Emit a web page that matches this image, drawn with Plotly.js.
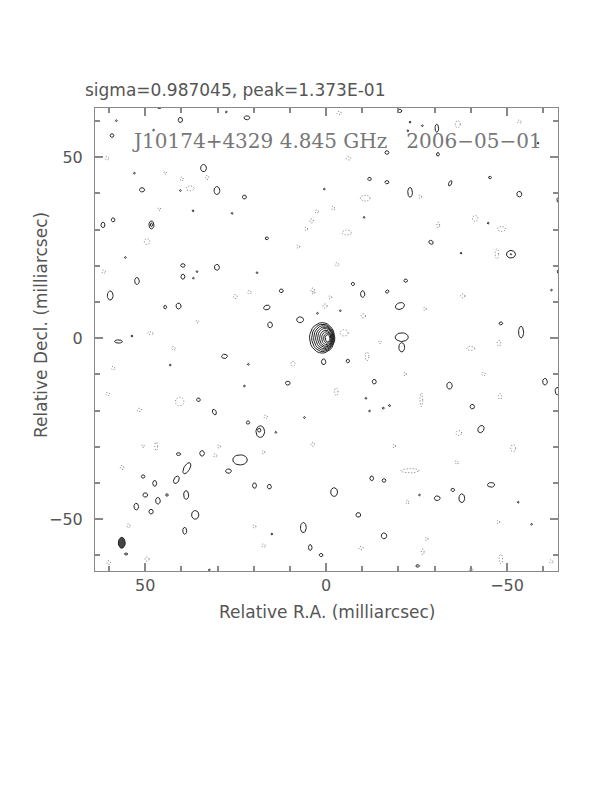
<!DOCTYPE html>
<html><head><meta charset="utf-8">
<script src="https://cdn.plot.ly/plotly-3.0.1.min.js"></script>
<style>html,body{margin:0;padding:0;background:#fff}</style>
</head><body><div id="plot" style="width:612px;height:792px"></div>
<script>
// ---- Data (milliarcsec), read from the map ----
// positive contour islands: centre x, centre y, half-width, half-height, tilt (deg)
const posX = [58.0,40.3,21.9,27.6,59.2,46.1,47.7,33.9,53.0,50.9,40.3,30.2,22.6,36.8,26.0,0.5,61.7,58.9,48.3,48.3,16.4,55.5,39.6,39.6,35.7,36.7,30.2,19.1,52.3,59.7,12.4,44.5,40.8,16.4,7.2,15.5,53.7,57.4,
 -20.4,-23.2,-26.6,-30.6,-22.6,-16.8,-30.9,-58.6,-12.0,-16.8,-45.3,-34.3,-23.2,-53.4,-10.5,-44.8,-29.0,-37.3,-51.1,-51.1,-62.3,-64.4,-64.4,-22.0,-7.4,-10.1,-16.9,-20.4,-48.3,-53.9,-20.9,-20.9,
 28.1,43.1,21.5,0.7,10.6,22.6,35.3,30.9,21.6,18.2,18.5,6.0,13.9,40.8,34.3,23.8,38.5,27.0,50.6,41.4,47.4,19.8,15.7,50.0,44.0,38.7,46.5,52.5,48.4,36.2,6.3,39.1,15.0,55.3,4.4,1.4,32.3,
 -6.0,-13.3,-34.1,-60.5,-63.9,-11.0,-15.8,-17.5,-12.0,-40.4,-42.8,-12.6,-16.0,-45.6,-2.2,-25.8,-35.0,-30.7,-37.5,-53.1,-8.9,-56.8,-16.0,-25.3,2.4,-3.9];
const posY = [60.1,60.3,60.9,62.5,56.0,63.8,57.5,47.0,45.6,41.0,40.8,40.8,39.0,35.2,34.5,41.2,31.3,32.7,31.3,31.3,27.6,22.3,20.1,17.0,18.4,16.6,19.6,18.1,15.8,11.8,13.1,8.6,8.9,8.5,5.1,3.7,0.6,-0.9,
 62.8,59.7,58.7,58.0,57.3,51.3,50.8,53.9,44.0,43.1,44.4,42.8,40.3,39.8,33.4,31.8,26.5,23.5,23.2,23.2,13.3,38.2,18.4,15.9,15.0,12.2,12.9,8.9,4.1,1.7,0.3,-2.5,
 -5.0,-7.4,-7.2,-6.5,-12.4,-13.2,-17.0,-20.4,-23.3,-25.8,-25.4,-21.9,-26.0,-32.0,-31.8,-33.6,-35.9,-36.7,-38.2,-39.1,-40.1,-40.7,-41.0,-43.3,-43.3,-43.3,-44.9,-46.5,-47.9,-48.8,-52.3,-53.2,-54.1,-59.6,-57.8,-59.9,-64.0,
 -6.3,-12.0,-13.1,-12.0,-14.6,-16.6,-19.3,-18.6,-20.1,-18.9,-25.1,-38.7,-39.3,-40.5,-42.5,-43.3,-41.9,-44.2,-44.2,-45.3,-48.8,-51.4,-54.6,-62.9,6.9,7.6];
const posA = [0.25,0.6,0.8,0.25,0.5,0.6,0.25,0.8,0.25,0.7,0.25,0.8,0.55,0.25,0.25,0.25,0.55,0.5,0.7,0.3,0.45,0.25,0.6,0.55,0.25,0.25,0.7,0.25,0.65,0.8,0.55,0.4,0.7,0.9,0.95,0.65,0.25,1.1,
 0.5,0.25,0.25,0.5,0.25,0.55,0.4,0.25,0.5,0.55,0.4,0.4,0.65,0.7,0.25,0.25,0.65,0.25,1.25,0.2,0.25,0.6,0.5,0.5,0.45,0.6,0.5,1.3,0.5,0.7,1.8,0.8,
 0.8,0.25,0.25,0.6,0.65,0.25,0.5,0.5,0.45,1.2,0.45,0.25,0.25,0.6,0.65,2.0,0.8,0.8,0.5,0.7,0.55,0.55,0.55,0.65,0.35,0.7,0.65,0.65,0.6,1.0,0.8,0.55,0.25,0.45,0.5,0.5,0.25,
 0.45,0.55,0.75,0.65,0.6,0.25,0.3,0.3,0.25,0.6,0.8,0.5,0.5,1.0,0.95,0.25,0.5,0.8,0.8,0.25,0.65,0.25,0.75,0.5,0.25,0.25];
const posB = [0.25,0.7,0.55,0.25,0.5,0.35,0.25,1.0,0.25,0.6,0.25,1.1,0.55,0.25,0.25,0.25,0.75,0.55,1.1,0.5,0.4,0.25,0.5,0.7,0.25,0.25,0.8,0.25,0.95,1.25,0.5,0.5,0.8,0.65,0.8,0.8,0.25,0.45,
 0.45,0.25,0.25,1.1,0.25,0.5,0.5,0.25,0.45,0.45,0.35,0.8,1.35,0.75,0.25,0.25,0.5,0.25,1.05,0.2,0.25,0.8,0.6,0.45,0.45,0.9,0.4,0.9,0.4,1.6,1.2,1.3,
 0.6,0.25,0.25,0.8,0.55,0.25,0.5,0.8,0.45,1.6,0.55,0.25,0.25,0.4,0.75,1.4,1.7,0.6,0.45,1.1,0.8,0.75,0.65,0.6,0.35,1.2,0.9,0.9,0.65,1.2,1.4,0.95,0.25,0.3,0.8,0.45,0.25,
 0.5,0.65,0.95,0.9,1.0,0.25,0.25,0.25,0.25,0.65,1.05,0.65,0.5,0.65,1.2,0.25,0.45,0.65,1.2,0.25,0.65,0.25,0.8,0.35,0.25,0.25];
const posT = {33:15, 49:-25, 54:-30, 64:30, 65:20, 77:25, 86:-30, 89:-30, 117:-30};

// negative (dotted) contour islands
const negX = [60.6,32.9,44.5,39.9,37.6,2.6,4.0,5.5,46.1,49.5,7.7,61.5,25.1,21.2,3.7,35.6,48.6,0.3,-3.6,-36.4,-53.4,-6.2,-26.0,-10.8,-2.0,-41.2,-48.5,-31.0,-5.7,-47.2,-3.0,-37.8,-27.3,-10.3,-5.0,-1.1,3.5,
 -11.3,42.2,58.9,9.2,60.4,40.5,51.6,16.7,50.6,47.0,3.7,30.7,29.6,17.3,56.4,54.6,19.8,17.3,60.1,49.5,-40.0,-47.8,-14.9,-21.8,-43.5,-2.8,-26.3,-48.1,-36.7,-18.8,-51.7,-36.1,-23.2,-22.5,-47.6,-27.8,-9.7,-26.7,-48.3,-62.2,-40.0];
const negY = [49.7,44.4,45.7,44.0,41.4,35.0,32.4,30.2,35.7,26.7,25.3,18.4,11.5,12.7,13.3,4.6,1.4,8.9,62.2,59.1,59.8,49.7,39.1,38.7,35.9,33.1,30.2,31.3,29.2,23.3,20.4,11.7,8.1,6.2,1.5,11.3,12.6,
 -5.0,-2.8,-8.3,-7.0,-15.4,-17.5,-19.8,-21.7,-29.8,-29.9,-29.3,-32.4,-29.9,-31.5,-35.7,-51.8,-52.0,-57.3,-62.0,-61.0,-2.8,-1.4,-1.1,-9.9,-9.9,-14.8,-17.0,-16.1,-26.2,-29.8,-30.4,-34.3,-36.6,-45.3,-50.8,-55.4,-58.0,-59.0,-61.0,-61.7,-63.9];
const negA = [0.5,0.5,0.4,0.4,1.1,0.5,0.5,0.4,0.4,0.8,0.4,0.5,0.5,0.5,0.5,0.4,0.8,0.6,0.6,0.7,0.5,0.6,0.4,1.4,0.4,0.8,1.1,0.4,1.3,0.5,0.5,0.6,0.4,0.6,1.1,0.4,0.4,
 0.5,0.5,0.5,0.6,0.5,1.2,0.6,0.5,0.4,0.4,0.5,0.5,0.4,0.4,0.5,0.4,0.4,0.5,0.5,0.6,1.1,0.5,0.4,0.4,0.5,0.5,0.4,0.5,0.8,0.4,0.7,0.4,2.5,0.4,0.4,0.4,0.6,0.4,0.5,0.5,0.6];
const negB = [0.5,0.6,0.4,0.6,0.7,0.5,0.6,0.5,0.4,0.8,0.5,0.5,0.6,0.5,0.6,0.4,0.4,0.6,0.5,1.0,0.5,0.5,0.5,0.8,0.6,0.8,0.7,0.8,0.7,1.4,0.5,0.6,0.5,0.6,0.9,0.5,0.5,
 1.2,0.5,0.5,0.7,0.5,1.2,0.5,0.5,0.4,1.2,0.6,0.5,0.5,0.5,0.6,0.6,0.5,0.5,0.6,0.6,0.6,0.8,0.4,0.5,0.5,1.1,1.9,0.8,0.7,0.5,1.0,0.6,0.6,0.6,0.5,0.5,0.5,0.8,1.3,0.5,0.4];
const negT = {68:20};

// central component: nested contour levels (outer -> inner)
const coreX = [1.1,0.9,0.7,0.5,0.3,0.1,-0.1,-0.3,-0.4];
const coreY = [0.1,0.1,0.1,0.1,0.1,0.0,0.0,0.0,0.0];
const coreA = [3.5,3.1,2.75,2.4,2.05,1.7,1.35,1.0,0.65];
const coreB = [4.2,3.8,3.4,3.0,2.6,2.2,1.8,1.4,1.0];

// restoring beam
const beamX = [56.5], beamY = [-56.5], beamA = [0.95], beamB = [1.5];

const xTicks = [50, 0, -50];
const yTicks = [50, 0, -50];
const tickText = ['50', '0', '\u221250'];
const xRange = [63.9, -64.1];
const yRange = [-64.3, 63.6];

// ---- build ellipse outlines ----
function outlines(cx, cy, a, b, tilt) {
  const X = [], Y = [], N = 28;
  for (let i = 0; i < cx.length; i++) {
    const th = ((tilt && tilt[i]) || 0) * Math.PI / 180;
    for (let k = 0; k <= N; k++) {
      const t = 2 * Math.PI * k / N;
      const vx = a[i] * Math.cos(t) * Math.cos(th) - b[i] * Math.sin(t) * Math.sin(th);
      const vy = a[i] * Math.cos(t) * Math.sin(th) + b[i] * Math.sin(t) * Math.cos(th);
      X.push(cx[i] - vx); Y.push(cy[i] + vy);
    }
    X.push(null); Y.push(null);
  }
  return {X, Y};
}
const P = outlines(posX, posY, posA, posB, posT);
const Ng = outlines(negX, negY, negA, negB, negT);
const C = outlines(coreX, coreY, coreA, coreB, null);
const B = outlines(beamX, beamY, beamA, beamB, null);

const traces = [
  {x: Ng.X, y: Ng.Y, mode: 'lines', line: {color: '#777', width: 1, dash: '1px,2px'}, hoverinfo: 'skip'},
  {x: P.X, y: P.Y, mode: 'lines', line: {color: '#222', width: 1}, hoverinfo: 'skip'},
  {x: C.X, y: C.Y, mode: 'lines', line: {color: '#222', width: 1}, hoverinfo: 'skip'},
  {x: B.X, y: B.Y, mode: 'lines', fill: 'toself', fillcolor: '#444', line: {color: '#222', width: 1}, hoverinfo: 'skip'}
];

const tickCol = '#888';
const tickFont = {family: 'DejaVu Sans', size: 16, color: '#555'};

const layout = {
  width: 612, height: 792, showlegend: false,
  margin: {l: 95, r: 54, t: 108, b: 221, pad: 0},
  title: {text: 'sigma=0.987045, peak=1.373E-01', xref: 'container', yref: 'container',
          x: 85/612, xanchor: 'left', y: 1 - 90/792, yanchor: 'middle',
          font: {family: 'DejaVu Sans', size: 17, color: '#555'}},
  xaxis: {range: xRange, tickmode: 'array', tickvals: xTicks, ticktext: tickText, ticks: 'inside', ticklen: 8, tickwidth: 2, tickcolor: tickCol,
          showline: true, linecolor: '#888', linewidth: 1, mirror: 'ticks', showgrid: false, zeroline: false, tickfont: tickFont,
          minor: {dtick: 10, ticks: 'inside', ticklen: 5, tickcolor: tickCol, tickwidth: 2}},
  yaxis: {range: yRange, tickmode: 'array', tickvals: yTicks, ticktext: tickText, ticks: 'inside', ticklen: 8, tickwidth: 2, tickcolor: tickCol,
          showline: true, linecolor: '#888', linewidth: 1, mirror: 'ticks', showgrid: false, zeroline: false, tickfont: tickFont, ticklabelstandoff: 8,
          minor: {dtick: 10, ticks: 'inside', ticklen: 5, tickcolor: tickCol, tickwidth: 2}},
  annotations: [
    {text: 'J10174+4329 4.845 GHz\u00a0\u00a0 2006\u221205\u221201', xref: 'paper', yref: 'paper',
     x: (130-95)/463, y: (571-141)/463, xanchor: 'left', yanchor: 'middle', showarrow: false,
     font: {family: 'DejaVu Serif', size: 20, color: '#777'}},
    {text: 'Relative R.A. (milliarcsec)', xref: 'paper', yref: 'paper', x: 0.5, y: (571-612)/463,
     xanchor: 'center', yanchor: 'middle', showarrow: false, font: {family: 'DejaVu Sans', size: 17, color: '#555'}},
    {text: 'Relative Decl. (milliarcsec)', xref: 'paper', yref: 'paper', x: (41-95)/463, y: (571-325)/463,
     xanchor: 'center', yanchor: 'middle', textangle: -90, showarrow: false, font: {family: 'DejaVu Sans', size: 17, color: '#555'}}
  ]
};
Plotly.newPlot('plot', traces, layout, {staticPlot: true, displayModeBar: false});
</script></body></html>
